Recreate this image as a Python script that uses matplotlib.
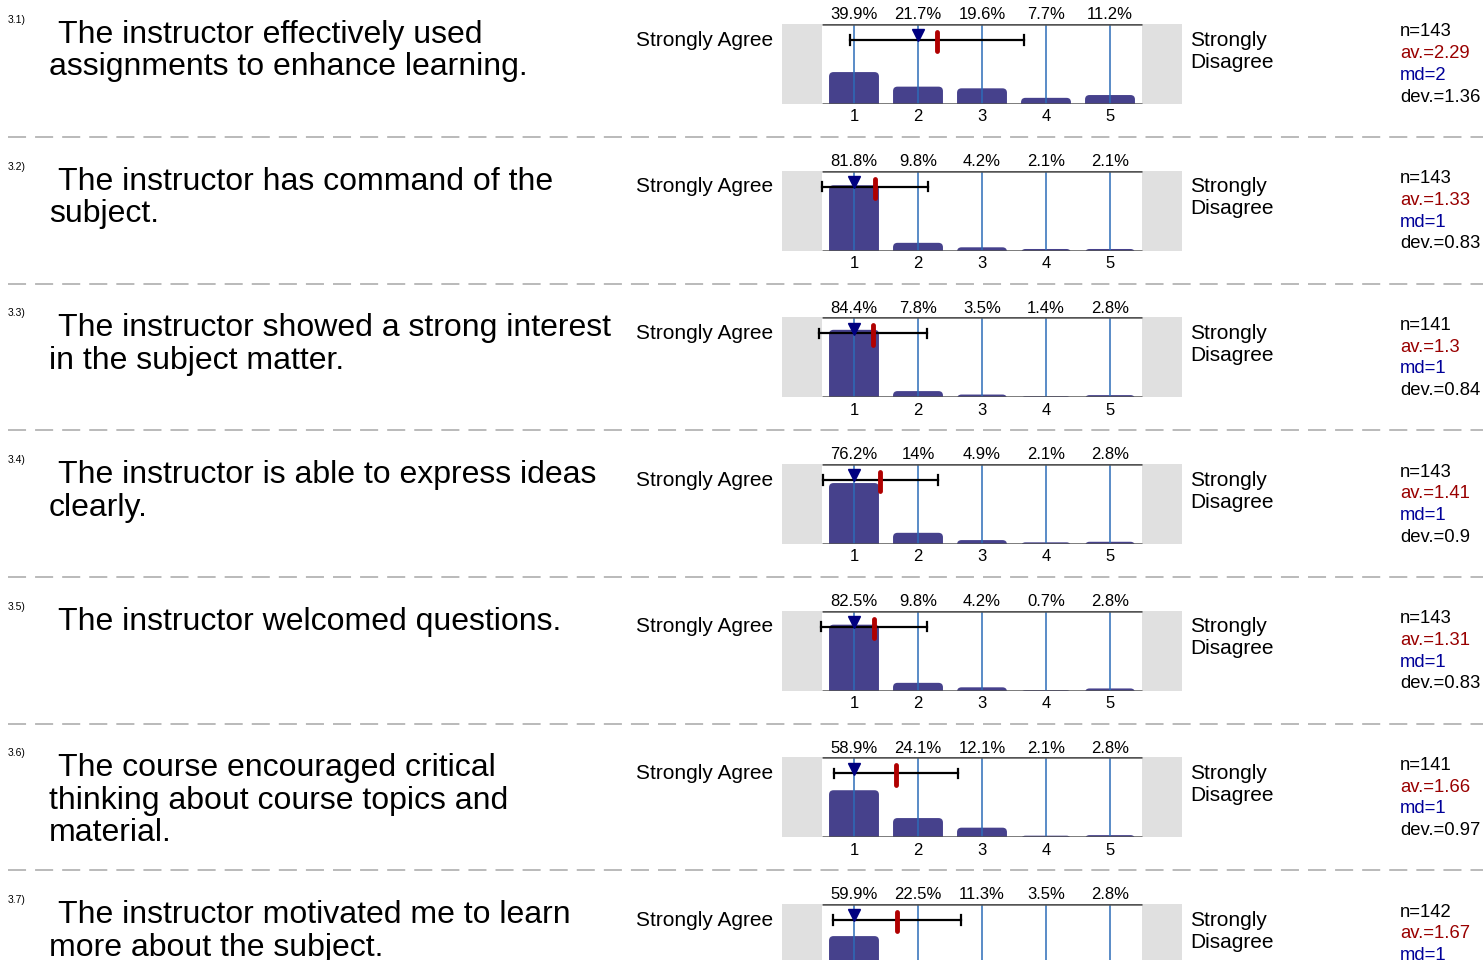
import matplotlib.pyplot as plt
from matplotlib.patches import FancyBboxPatch

plt.rcParams['font.family'] = ['Liberation Sans', 'DejaVu Sans']

W, H = 1483, 960
STEP = 146.67

# survey items
numbers = ['3.1)', '3.2)', '3.3)', '3.4)', '3.5)', '3.6)', '3.7)']
questions = [
    ['The instructor effectively used', 'assignments to enhance learning.'],
    ['The instructor has command of the', 'subject.'],
    ['The instructor showed a strong interest', 'in the subject matter.'],
    ['The instructor is able to express ideas', 'clearly.'],
    ['The instructor welcomed questions.'],
    ['The course encouraged critical', 'thinking about course topics and', 'material.'],
    ['The instructor motivated me to learn', 'more about the subject.'],
]
# percent of answers for scale 1..5
percents = [
    [39.9, 21.7, 19.6, 7.7, 11.2],
    [81.8, 9.8, 4.2, 2.1, 2.1],
    [84.4, 7.8, 3.5, 1.4, 2.8],
    [76.2, 14, 4.9, 2.1, 2.8],
    [82.5, 9.8, 4.2, 0.7, 2.8],
    [58.9, 24.1, 12.1, 2.1, 2.8],
    [59.9, 22.5, 11.3, 3.5, 2.8],
]
n_resp = [143, 143, 141, 143, 143, 141, 142]
averages = [2.29, 1.33, 1.3, 1.41, 1.31, 1.66, 1.67]
medians = [2, 1, 1, 1, 1, 1, 1]
devs = [1.36, 0.83, 0.84, 0.9, 0.83, 0.97, 1.0]
scale = [1, 2, 3, 4, 5]

fig = plt.figure(figsize=(W / 100, H / 100), dpi=100)
bg = fig.add_axes([0, 0, 1, 1])
bg.set_xlim(0, W)
bg.set_ylim(H, 0)
bg.axis('off')

# one x unit = 64 px, one percent = 0.8 px -> aspect for round corners
ASPECT = 80.0

for k in range(len(questions)):
    off = k * STEP

    # labels on the left
    bg.text(8, 20 + off, numbers[k], fontsize=7.5, va='center', ha='left')
    for i, line in enumerate(questions[k]):
        x = 58 if i == 0 else 49
        bg.text(x, 35 + off + i * 32.5, line, fontsize=23, va='center', ha='left')
    bg.text(773, 40 + off, 'Strongly Agree', fontsize=15, va='center', ha='right')
    bg.text(1190, 40 + off, 'Strongly', fontsize=15, va='center', ha='left')
    bg.text(1190, 62 + off, 'Disagree', fontsize=15, va='center', ha='left')

    # statistics
    stats = [('n=%d' % n_resp[k], 'black'),
             ('av.=%g' % averages[k], '#990000'),
             ('md=%g' % medians[k], '#000099'),
             ('dev.=%g' % devs[k], 'black')]
    for i, (s, c) in enumerate(stats):
        bg.text(1400, 32 + off + i * 21.7, s, fontsize=13.3, color=c, va='center', ha='left')

    # separator
    if k < len(questions) - 1:
        bg.plot([8, W], [137 + off, 137 + off], color='#b4b4b4', lw=1.3,
                dashes=(10, 5))

    # histogram
    ax = fig.add_axes([782 / W, 1 - (104 + off) / H, 400 / W, 80 / H])
    ax.set_xlim(-0.125, 6.125)
    ax.set_ylim(0, 100)
    ax.axis('off')
    ax.axvspan(-0.125, 0.5, color='#e0e0e0', lw=0)
    ax.axvspan(5.5, 6.125, color='#e0e0e0', lw=0)
    for x, p in zip(scale, percents[k]):
        bar = FancyBboxPatch((x - 0.39, -8), 0.78, p + 8,
                             boxstyle='round,pad=0,rounding_size=0.07',
                             mutation_aspect=ASPECT, facecolor='#46418c',
                             edgecolor='none', zorder=2)
        ax.add_patch(bar)
    ax.vlines(scale, 0, 100, color='#2c6cb8', lw=1.1, zorder=3)
    ax.hlines([0, 100], 0.5, 5.5, color='#555555', lw=1.8, zorder=4)
    for x, p in zip(scale, percents[k]):
        ax.annotate('%g%%' % p, (x, 100), xytext=(0, 1.2), textcoords='offset points',
                    ha='center', va='bottom', fontsize=12, annotation_clip=False)
        ax.annotate(str(x), (x, 0), xytext=(0, -3.8), textcoords='offset points',
                    ha='center', va='top', fontsize=12, annotation_clip=False)

    # mean +/- deviation, median and mean markers
    lo = averages[k] - devs[k]
    hi = averages[k] + devs[k]
    ax.plot([lo, hi], [80, 80], color='black', lw=1.6, zorder=5)
    ax.plot([lo, lo], [74, 86], color='black', lw=1.6, zorder=5)
    ax.plot([hi, hi], [74, 86], color='black', lw=1.6, zorder=5)
    ax.plot([medians[k]], [86], marker='v', color='#000080', markersize=8,
            lw=0, zorder=6)
    ax.plot([averages[k], averages[k]], [66, 90], color='#b00000', lw=3.5,
            solid_capstyle='round', zorder=7)

fig.savefig('out.png', dpi=100)
